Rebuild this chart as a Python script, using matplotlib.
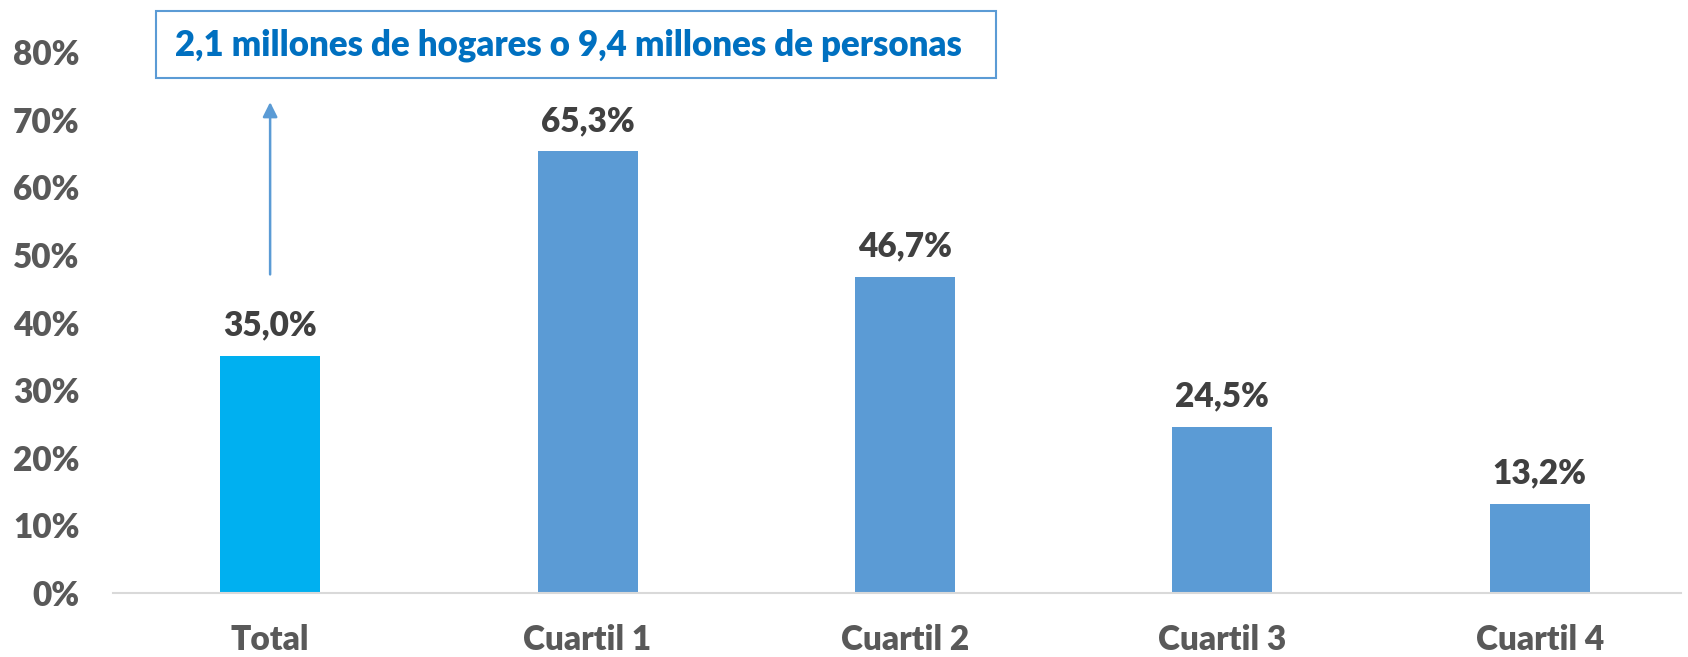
import matplotlib
matplotlib.use("Agg")
import matplotlib.pyplot as plt
from matplotlib.patches import Rectangle
from matplotlib.ticker import FuncFormatter

categories = ["Total", "Cuartil 1", "Cuartil 2", "Cuartil 3", "Cuartil 4"]
values = [35.0, 65.3, 46.7, 24.5, 13.2]
bar_colors = ["#00B0F0", "#5B9BD5", "#5B9BD5", "#5B9BD5", "#5B9BD5"]
note = "2,1 millones de hogares o 9,4 millones de personas"

plt.rcParams['font.family'] = ['Lato', 'DejaVu Sans']
W = "heavy"

fig = plt.figure(figsize=(16.88, 6.57), dpi=100)
ax = fig.add_axes([113/1688, 64/657, (1681-113)/1688, (593-52)/657])

x = range(len(categories))
ax.bar(x, values, width=0.315, color=bar_colors)

for xi, v in zip(x, values):
    ax.annotate(f"{v:.1f}%".replace(".", ","), (xi, v), xytext=(0, 22),
                textcoords="offset points", ha="center", va="center",
                fontsize=24, fontweight=W, color="#404040")

ax.set_xlim(-0.495, 4.445)
ax.set_ylim(0, 80)
ax.set_yticks(range(0, 81, 10))
ax.yaxis.set_major_formatter(FuncFormatter(lambda v, p: f"{v:.0f}%"))
ax.set_xticks(list(x))
ax.set_xticklabels(categories)

for s in ["top", "right", "left"]:
    ax.spines[s].set_visible(False)
ax.spines["bottom"].set_color("#D9D9D9")
ax.spines["bottom"].set_linewidth(1.5)
ax.tick_params(axis="y", length=0, pad=24, labelsize=24, labelcolor="#595959")
ax.tick_params(axis="x", length=0, pad=22, labelsize=24, labelcolor="#595959")
for lab in ax.get_xticklabels() + ax.get_yticklabels():
    lab.set_fontweight(W)

# arrow from Total bar up to the note
ax.annotate("", xy=(0, 73.0), xytext=(0, 46.7),
            arrowprops=dict(arrowstyle="-|>", color="#5B9BD5", lw=1.8,
                            mutation_scale=22), annotation_clip=False)

# note box
fig.patches.append(Rectangle((156/1688, 1 - 78/657), 840/1688, 67/657,
                             transform=fig.transFigure, fill=False,
                             edgecolor="#5B9BD5", linewidth=1.5))
fig.text(568/1688, 1 - 45/657, note, ha="center", va="center",
         fontsize=25, fontweight=W, color="#0070C0")

fig.savefig("out.png", dpi=100)
